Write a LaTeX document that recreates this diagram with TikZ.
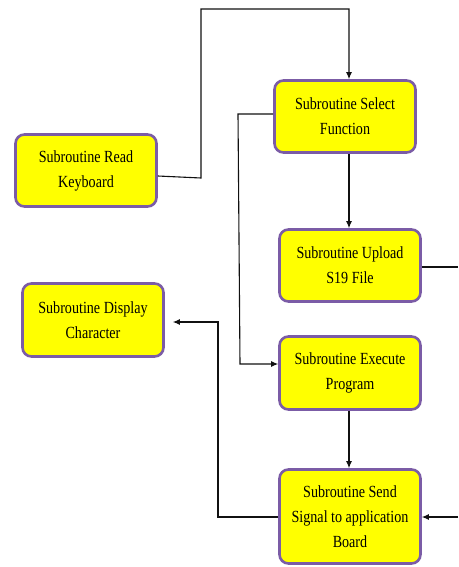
\documentclass[tikz,border=0pt]{standalone}
\usepackage{fontspec}
\setmainfont[FakeStretch=0.83]{Liberation Serif}
\usetikzlibrary{arrows.meta,calc}
\definecolor{boxfill}{HTML}{FFFF00}
\definecolor{boxedge}{HTML}{7B5CA6}
\definecolor{linec}{HTML}{111111}
\tikzset{
  subbox/.style={draw=boxedge, fill=boxfill, line width=2.6pt, rounded corners=9pt,
    minimum width=141pt, align=center, inner sep=2pt,
    font=\fontsize{17}{25}\selectfont},
  conn/.style={draw=linec, line width=1.1pt},
  arr/.style={conn, -{Latex[length=7pt,width=6pt]}}
}
\begin{document}
\begin{tikzpicture}[x=1pt,y=-1pt]
\useasboundingbox (0,0) rectangle (458,567);
\node[subbox, minimum height=72pt] (read) at (86,170.5) {Subroutine Read\\Keyboard};
\node[subbox, minimum height=72pt] (select) at (345,116.5) {Subroutine Select\\Function};
\node[subbox, minimum height=72pt] (upload) at (350,265.5) {Subroutine Upload\\S19 File};
\node[subbox, minimum height=73pt] (display) at (93,320) {Subroutine Display\\Character};
\node[subbox, minimum height=73pt] (execute) at (350,373) {Subroutine Execute\\Program};
\node[subbox, minimum height=94pt] (send) at (350,516.5) {Subroutine Send\\Signal to application\\Board};
\coordinate (topA) at (201,9);
\coordinate (topB) at (349,9);
\coordinate (leftA) at (238,114);
\coordinate (leftB) at (240,364);
\coordinate (upR) at (458,267);
\coordinate (sendR) at (458,517);
\coordinate (dispA) at (218,517);
\coordinate (dispB) at (218,322);
% Read Keyboard -> Select Function
\draw[arr] (read.east |- 0,176) -- (201,178) -- (topA) -- (topB) -- (topB |- select.north);
% Select -> Execute
\draw[arr] (select.west |- leftA) -- (leftA) -- (leftB) -- (execute.west |- leftB);
% Select -> Upload
\draw[arr] (349,0 |- select.south) -- (349,0 |- upload.north);
% Upload -> off right
\draw[conn] (upload.east |- upR) -- (upR);
% from right -> Send
\draw[arr] (sendR) -- (send.east |- sendR);
% Execute -> Send
\draw[arr] (349,0 |- execute.south) -- (349,0 |- send.north);
% Send -> Display
\draw[arr, shorten >=8pt] (send.west |- dispA) -- (dispA) -- (dispB) -- (display.east |- dispB);
\end{tikzpicture}
\end{document}
